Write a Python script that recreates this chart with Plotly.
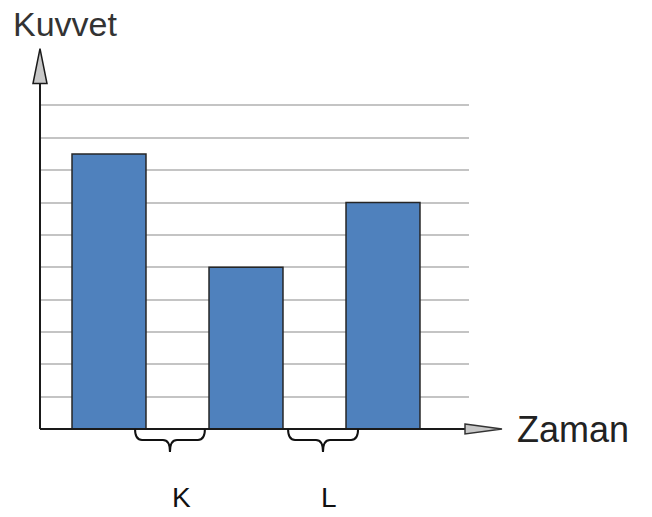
import plotly.graph_objects as go

# Data
positions = [1, 2, 3]
values = [8.5, 5.0, 7.0]
interval_labels = ["K", "L"]
brace_starts = [1.19, 2.307]
brace_ends = [1.70, 2.818]
brace_centers = [1.445, 2.562]
label_x = [1.526, 2.609]

OFF = 8  # page body margin
W, H = 652 - 2 * OFF, 517 - 2 * OFF
YTOP = 10.2
unit = 32.4
plot_left_t, plot_right_t, plot_bottom_t = 40, 469, 429  # target pixels
plot_top_t = plot_bottom_t - YTOP * unit
ML = plot_left_t - OFF
MR = W - (plot_right_t - OFF)
MB = H - (plot_bottom_t - OFF)
MT = plot_top_t - OFF
pw = plot_right_t - plot_left_t
ph = plot_bottom_t - plot_top_t
xunit = 137.0

def px_x(p):  # target pixel x -> paper
    return (p - plot_left_t) / pw

def px_y(p):  # target pixel y -> paper
    return (plot_bottom_t - p) / ph

fig = go.Figure()
fig.add_trace(go.Bar(
    x=positions, y=values, width=0.54,
    marker=dict(color="#4f81bd", line=dict(color="#262626", width=1.5)),
    hoverinfo="skip",
))

shapes = []
# y axis line and arrow
shapes.append(dict(type="line", xref="paper", yref="paper", x0=0, x1=0, y0=0, y1=px_y(83),
                   line=dict(color="#1a1a1a", width=2)))
hw = 7 / pw
shapes.append(dict(type="path", xref="paper", yref="paper",
                   path=f"M {-hw},{px_y(83)} L 0,{px_y(48)} L {hw},{px_y(83)} Z",
                   fillcolor="#c8c8c8", line=dict(color="#1a1a1a", width=1.5)))
# x axis line and arrow
shapes.append(dict(type="line", xref="paper", yref="paper", x0=0, x1=px_x(465), y0=0, y1=0,
                   line=dict(color="#1a1a1a", width=2)))
hh = 5 / ph
shapes.append(dict(type="path", xref="paper", yref="paper",
                   path=f"M {px_x(465)},{hh} L {px_x(502)},0 L {px_x(465)},{-hh} Z",
                   fillcolor="#c8c8c8", line=dict(color="#333333", width=1.5)))

# braces
y1 = px_y(440)
y2 = px_y(452)
rx = 7 / xunit
for x0, x1, xc in zip(brace_starts, brace_ends, brace_centers):
    path = (f"M {x0},0 Q {x0},{y1} {x0+rx},{y1} L {xc-rx},{y1} Q {xc},{y1} {xc},{y2} "
            f"Q {xc},{y1} {xc+rx},{y1} L {x1-rx},{y1} Q {x1},{y1} {x1},0")
    shapes.append(dict(type="path", xref="x", yref="paper", path=path,
                       line=dict(color="#111111", width=2)))

annotations = [
    dict(text="Kuvvet", xref="paper", yref="paper", x=px_x(11), y=px_y(23),
         xanchor="left", yanchor="middle", showarrow=False,
         font=dict(family="Arial, Liberation Sans", size=34, color="#333333")),
    dict(text="Zaman", xref="paper", yref="paper", x=px_x(515), y=px_y(430),
         xanchor="left", yanchor="middle", showarrow=False,
         font=dict(family="Arial, Liberation Sans", size=36, color="#222222")),
]
for lab, lx in zip(interval_labels, label_x):
    annotations.append(dict(text=lab, xref="x", yref="paper", x=lx, y=px_y(498),
                            xanchor="center", yanchor="middle", showarrow=False,
                            font=dict(family="Arial, Liberation Sans", size=28, color="#111111")))

fig.update_layout(
    width=W, height=H,
    margin=dict(l=ML, r=MR, t=MT, b=MB, pad=0),
    paper_bgcolor="white", plot_bgcolor="white",
    showlegend=False,
    shapes=shapes, annotations=annotations,
    xaxis=dict(range=[1 - (109 - plot_left_t) / xunit, 1 + (plot_right_t - 109) / xunit],
               showgrid=False, zeroline=False, showticklabels=False,
               ticks="", showline=False, fixedrange=True),
    yaxis=dict(range=[0, YTOP], dtick=1, tick0=0, showgrid=True, gridcolor="#c4c4c4", gridwidth=2,
               zeroline=False, showticklabels=False, ticks="", showline=False, fixedrange=True),
)

fig.write_html("out.html")
